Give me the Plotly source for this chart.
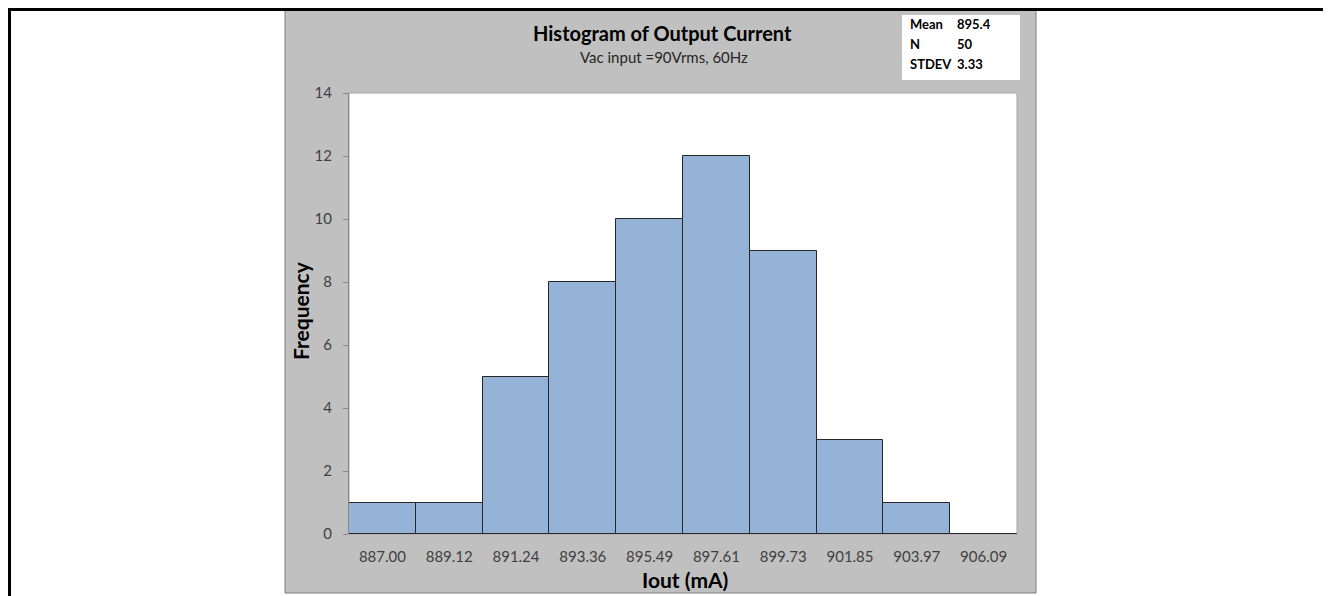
import plotly.graph_objects as go

bin_labels = ["887.00", "889.12", "891.24", "893.36", "895.49",
              "897.61", "899.73", "901.85", "903.97", "906.09"]
frequency = [1, 1, 5, 8, 10, 12, 9, 3, 1, 0]
stat_names = ["Mean", "N", "STDEV"]
stat_values = ["895.4", "50", "3.33"]

# the page puts the figure 8px in from the top-left corner
OFF = 8
W, H = 1331 - OFF, 596 - OFF
PL, PR, PT, PB = 349, 1017, 93, 534  # plot area, page pixels


def px(x):
    return (x - PL) / (PR - PL)


def py(y):
    return (PB - y) / (PB - PT)


FONT = "Lato, 'Open Sans', sans-serif"

fig = go.Figure(go.Bar(
    x=bin_labels,
    y=frequency,
    marker=dict(color="#95B3D7", line=dict(color="#262626", width=1)),
    hoverinfo="x+y",
))

shapes = [
    # grey chart panel
    dict(type="rect", xref="paper", yref="paper", layer="below",
         x0=px(285), x1=px(1036), y0=py(593), y1=py(9),
         fillcolor="#C0C0C0", line=dict(color="#7F7F7F", width=1)),
    # white plot area
    dict(type="rect", xref="paper", yref="paper", layer="below",
         x0=0, x1=1, y0=0, y1=1,
         fillcolor="white", line=dict(color="#A6A6A6", width=1)),
    # stats box
    dict(type="rect", xref="paper", yref="paper", layer="below",
         x0=px(902), x1=px(1020), y0=py(80), y1=py(15),
         fillcolor="white", line=dict(width=0)),
    # page frame
    dict(type="line", xref="paper", yref="paper",
         x0=px(9.5), x1=px(9.5), y0=py(8), y1=py(600),
         line=dict(color="black", width=3)),
    dict(type="line", xref="paper", yref="paper",
         x0=px(8), x1=px(1331), y0=py(9.5), y1=py(9.5),
         line=dict(color="black", width=3)),
    dict(type="line", xref="paper", yref="paper",
         x0=px(1329.5), x1=px(1329.5), y0=py(8), y1=py(600),
         line=dict(color="black", width=3)),
]

annotations = [
    dict(text="<b>Histogram of Output Current</b>", x=px(662), y=py(33),
         font=dict(size=20, color="#000000")),
    dict(text="Vac input =90Vrms, 60Hz", x=px(664), y=py(57),
         font=dict(size=15, color="#262626")),
    dict(text="<b>Frequency</b>", x=px(300), y=py(311), textangle=-90,
         font=dict(size=21, color="#000000")),
    dict(text="<b>Iout (mA)</b>", x=px(685), y=py(579),
         font=dict(size=21, color="#000000")),
]
for i, (name, val) in enumerate(zip(stat_names, stat_values)):
    row_y = py(24 + 20 * i)
    annotations.append(dict(text=f"<b>{name}</b>", x=px(908), y=row_y,
                            xanchor="left", font=dict(size=13, color="#000000")))
    annotations.append(dict(text=f"<b>{val}</b>", x=px(955), y=row_y,
                            xanchor="left", font=dict(size=13, color="#000000")))
for a in annotations:
    a.update(xref="paper", yref="paper", showarrow=False)
    a.setdefault("xanchor", "center")
    a.setdefault("yanchor", "middle")

fig.update_layout(
    width=W, height=H,
    margin=dict(l=PL - OFF, r=1331 - PR, t=PT - OFF, b=596 - PB, pad=0),
    paper_bgcolor="white",
    plot_bgcolor="rgba(0,0,0,0)",
    font=dict(family=FONT, size=15, color="#404040"),
    bargap=0,
    showlegend=False,
    shapes=shapes,
    annotations=annotations,
    xaxis=dict(
        type="category", showgrid=False, zeroline=False,
        showline=False, ticks="", ticklabelstandoff=12,
        tickfont=dict(size=15, color="#404040"),
    ),
    yaxis=dict(
        range=[0, 14], dtick=2, showgrid=False, zeroline=False,
        showline=True, linecolor="#868686", linewidth=1,
        ticks="outside", ticklen=5, tickcolor="#868686",
        ticklabelstandoff=8,
        tickfont=dict(size=15, color="#404040"),
    ),
)

fig.write_html("out.html")
